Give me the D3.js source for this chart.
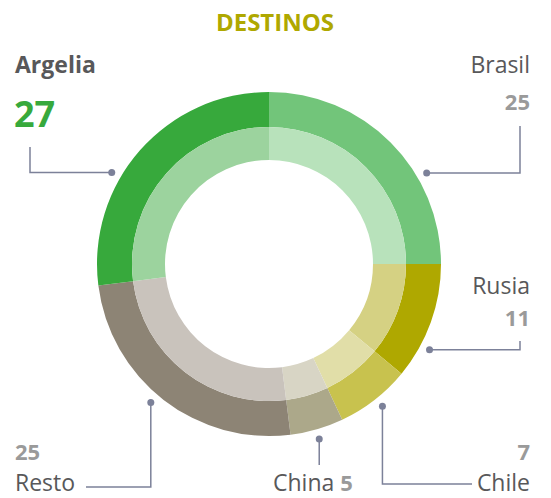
<!DOCTYPE html>
<html>
<head>
<meta charset="utf-8">
<script src="https://cdn.jsdelivr.net/npm/d3@7"></script>
<style>
  html, body { margin: 0; padding: 0; background: #fff; }
  svg { display: block; }
  text { font-family: "Open Sans", sans-serif; }
</style>
</head>
<body>
<svg id="chart" width="551" height="498"></svg>
<script>
// ---- data ----
const categories = ["Brasil", "Rusia", "Chile", "China", "Resto", "Argelia"];
const values = [25, 11, 7, 5, 25, 27];
const outerColors = ["#72c57a", "#afa800", "#c8c24e", "#aca88a", "#8d8475", "#37a93c"];
const innerColors = ["#b8e2bb", "#d5d183", "#e1dea8", "#d8d5c5", "#c9c3bc", "#9cd39e"];
const title = "DESTINOS";

// ---- layout ----
const W = 551, H = 498;
const cx = 269, cy = 264;
const rHole = 104, rMid = 137, rOuter = 172, rDot = 182;
const lineColor = "#7c8199";

// annotation layout: fraction along slice for the dot, leader route, text placement
const annot = {
  Argelia: { t: 0.385, route: [["h", 30], ["v", 147]] },
  Brasil:  { t: 0.667, route: [["h", 520], ["v", 126]] },
  Rusia:   { t: 0.71,  route: [["h", 520], ["v", 341]] },
  Chile:   { t: 0.47,  route: [["v", 484], ["h", 472]] },
  China:   { t: 0.51,  route: [["v", 465]] },
  Resto:   { t: 0.53,  route: [["v", 487], ["h", 86]] }
};

const svg = d3.select("#chart");

const pie = d3.pie().sort(null).value(d => d)(values);

const g = svg.append("g").attr("transform", `translate(${cx},${cy})`);
const arcOuter = d3.arc().innerRadius(rMid).outerRadius(rOuter);
const arcInner = d3.arc().innerRadius(rHole).outerRadius(rMid);

g.selectAll("path.outer").data(pie).join("path")
  .attr("class", "outer")
  .attr("d", arcOuter)
  .attr("fill", (d, i) => outerColors[i]);

g.selectAll("path.inner").data(pie).join("path")
  .attr("class", "inner")
  .attr("d", arcInner)
  .attr("fill", (d, i) => innerColors[i]);

// leader lines
pie.forEach((d, i) => {
  const a = annot[categories[i]];
  const ang = d.startAngle + (d.endAngle - d.startAngle) * a.t;
  const x0 = cx + rDot * Math.sin(ang);
  const y0 = cy - rDot * Math.cos(ang);
  const pts = [[x0, y0]];
  let x = x0, y = y0;
  a.route.forEach(([dir, v]) => {
    if (dir === "h") x = v; else y = v;
    pts.push([x, y]);
  });
  svg.append("path")
    .attr("d", d3.line()(pts))
    .attr("fill", "none")
    .attr("stroke", lineColor)
    .attr("stroke-width", 1.5);
  svg.append("circle")
    .attr("cx", x0).attr("cy", y0).attr("r", 3.5)
    .attr("fill", lineColor);
});

// title
svg.append("text")
  .attr("x", 275).attr("y", 31)
  .attr("text-anchor", "middle")
  .attr("font-size", 24).attr("font-weight", 700)
  .attr("fill", "#afa800")
  .text(title);

const labelColor = "#58585a";
const valueColor = "#9a9a9a";
const idx = n => categories.indexOf(n);

// Argelia
svg.append("text").attr("x", 15).attr("y", 73)
  .attr("font-size", 23).attr("font-weight", 700).attr("fill", labelColor)
  .text("Argelia");
svg.append("text").attr("x", 14).attr("y", 127)
  .attr("font-size", 36).attr("font-weight", 700).attr("fill", outerColors[idx("Argelia")])
  .text(values[idx("Argelia")]);

// Brasil
svg.append("text").attr("x", 530).attr("y", 73).attr("text-anchor", "end")
  .attr("font-size", 23).attr("fill", labelColor).text("Brasil");
svg.append("text").attr("x", 530).attr("y", 110).attr("text-anchor", "end")
  .attr("font-size", 22).attr("font-weight", 700).attr("fill", valueColor)
  .text(values[idx("Brasil")]);

// Rusia
svg.append("text").attr("x", 530).attr("y", 294).attr("text-anchor", "end")
  .attr("font-size", 23).attr("fill", labelColor).text("Rusia");
svg.append("text").attr("x", 530).attr("y", 326).attr("text-anchor", "end")
  .attr("font-size", 22).attr("font-weight", 700).attr("fill", valueColor)
  .text(values[idx("Rusia")]);

// Chile
svg.append("text").attr("x", 530).attr("y", 460).attr("text-anchor", "end")
  .attr("font-size", 22).attr("font-weight", 700).attr("fill", valueColor)
  .text(values[idx("Chile")]);
svg.append("text").attr("x", 530).attr("y", 491).attr("text-anchor", "end")
  .attr("font-size", 23).attr("fill", labelColor).text("Chile");

// China
const ch = svg.append("text").attr("x", 273).attr("y", 491)
  .attr("font-size", 23).attr("fill", labelColor);
ch.append("tspan").text("China ");
ch.append("tspan").attr("font-weight", 700).attr("fill", valueColor)
  .attr("font-size", 22).text(values[idx("China")]);

// Resto
svg.append("text").attr("x", 15).attr("y", 460)
  .attr("font-size", 22).attr("font-weight", 700).attr("fill", valueColor)
  .text(values[idx("Resto")]);
svg.append("text").attr("x", 15).attr("y", 491)
  .attr("font-size", 23).attr("fill", labelColor).text("Resto");
</script>
</body>
</html>
